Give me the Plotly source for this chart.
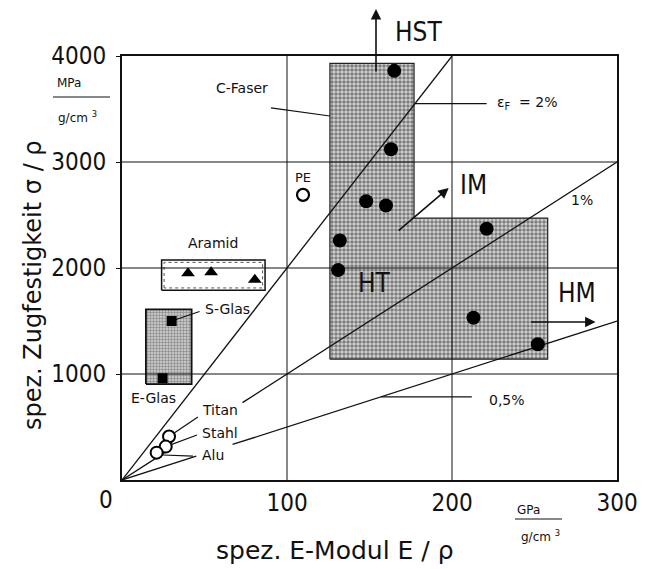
import plotly.graph_objects as go

# ---------------- data ----------------
x_ticks = [100, 200, 300]
y_ticks = [1000, 2000, 3000, 4000]
x_grid = [100, 200]
y_grid = [1000, 2000, 3000]

# carbon fibres (C-Faser): specific modulus, specific strength
cf_E = [165, 163, 148, 160, 132, 131, 221, 213, 252]
cf_S = [3860, 3120, 2630, 2590, 2260, 1980, 2370, 1530, 1280]

# carbon fibre region (HST / IM / HT / HM) outline
cf_region_E = [126, 126, 177, 177, 258, 258, 126]
cf_region_S = [1140, 3930, 3930, 2470, 2470, 1140, 1140]

# aramid
ar_E = [40, 54, 80.5]
ar_S = [1950, 1960, 1890]
ar_box_E = [24, 24, 86.7, 86.7, 24]
ar_box_S = [1790, 2075, 2075, 1790, 1790]

# glass
gl_names = ["S-Glas", "E-Glas"]
gl_E = [30.1, 24.6]
gl_S = [1500, 960]
gl_box_E = [14.5, 14.5, 42.2, 42.2, 14.5]
gl_box_S = [905, 1610, 1610, 905, 905]

# PE
pe_E = [109.7]
pe_S = [2690]

# metals
met_names = ["Titan", "Stahl", "Alu"]
met_E = [28.5, 26.5, 21.0]
met_S = [410, 315, 258]

# strain rays: strain (%), visible E segments
ray_strain = [2.0, 1.0, 0.5]
ray_segments = [[(0, 200)], [(0, 27), (73, 300)], [(0, 45), (67, 300)]]

TICKFONT = "DejaVu Sans Condensed, DejaVu Sans, sans-serif"
FONT = "DejaVu Sans, sans-serif"

# page has an 8px body margin -> figure is drawn at (8, 8)
OFF = 8
W, H = 649 - OFF, 569 - OFF
# plot area in reference pixel coordinates
L, R, T, B = 122, 617, 56, 480
def px(xp):
    return (xp - L) / (R - L)
def py(yp):
    return (B - yp) / (B - T)

fig = go.Figure()

# carbon fibre region
fig.add_trace(go.Scatter(
    x=cf_region_E, y=cf_region_S, mode="lines", fill="toself",
    line=dict(color="#222", width=1.2),
    fillcolor="rgba(0,0,0,0)",
    fillpattern=dict(shape=".", fgcolor="#222", bgcolor="#d6d6d6", size=4, solidity=0.6),
    hoverinfo="skip", showlegend=False))

# aramid box (white, double outline: outer solid, inner dotted)
fig.add_trace(go.Scatter(
    x=ar_box_E, y=ar_box_S, mode="lines", fill="toself", fillcolor="white",
    line=dict(color="#111", width=1.5), hoverinfo="skip", showlegend=False))
in_dx, in_dy = 1.5, 22
ar_in_E = [ar_box_E[0] + in_dx, ar_box_E[1] + in_dx, ar_box_E[2] - in_dx, ar_box_E[3] - in_dx, ar_box_E[4] + in_dx]
ar_in_S = [ar_box_S[0] + in_dy, ar_box_S[1] - in_dy, ar_box_S[2] - in_dy, ar_box_S[3] + in_dy, ar_box_S[4] + in_dy]
fig.add_trace(go.Scatter(
    x=ar_in_E, y=ar_in_S, mode="lines",
    line=dict(color="#555", width=1, dash="dot"), hoverinfo="skip", showlegend=False))

# glass box
fig.add_trace(go.Scatter(
    x=gl_box_E, y=gl_box_S, mode="lines", fill="toself",
    line=dict(color="#111", width=1.8),
    fillpattern=dict(shape="+", fgcolor="#333", bgcolor="#c4c4c4", size=3, solidity=0.3),
    hoverinfo="skip", showlegend=False))

# grid lines (drawn over fills)
for gx in x_grid:
    fig.add_trace(go.Scatter(x=[gx, gx], y=[0, 4000], mode="lines",
                             line=dict(color="#111", width=1), hoverinfo="skip", showlegend=False))
for gy in y_grid:
    fig.add_trace(go.Scatter(x=[0, 300], y=[gy, gy], mode="lines",
                             line=dict(color="#111", width=1), hoverinfo="skip", showlegend=False))

# strain rays sigma = eps * E  (E in GPa -> MPa)
for eps, segs in zip(ray_strain, ray_segments):
    for e0, e1 in segs:
        fig.add_trace(go.Scatter(
            x=[e0, e1], y=[eps / 100 * e0 * 1000, eps / 100 * e1 * 1000], mode="lines",
            line=dict(color="#111", width=1.3), hoverinfo="skip", showlegend=False))

# leader lines: (E0, S0, E1, S1)
leaders = [
    (177.6, 3550, 221, 3550),   # eps_F = 2%
    (157, 785, 212, 785),       # 0,5%
    (90.3, 3510, 126, 3434),    # C-Faser
    (gl_E[0], gl_S[0], 47, 1590),  # S-Glas
    (met_E[0], met_S[0], 46, 594),  # Titan
    (met_E[1], met_S[1], 45.5, 425),  # Stahl
    (met_E[2], met_S[2] - 20, 43, 226),  # Alu
]
for e0, s0, e1, s1 in leaders:
    fig.add_trace(go.Scatter(x=[e0, e1], y=[s0, s1], mode="lines",
                             line=dict(color="#111", width=1.2), hoverinfo="skip", showlegend=False))

# markers
fig.add_trace(go.Scatter(x=cf_E, y=cf_S, mode="markers",
                         marker=dict(symbol="circle", size=14, color="black"),
                         showlegend=False))
fig.add_trace(go.Scatter(x=ar_E, y=ar_S, mode="markers",
                         marker=dict(symbol="triangle-up", size=12, color="black"),
                         showlegend=False))
fig.add_trace(go.Scatter(x=gl_E, y=gl_S, mode="markers",
                         marker=dict(symbol="square", size=10, color="black"),
                         showlegend=False))
fig.add_trace(go.Scatter(x=pe_E, y=pe_S, mode="markers",
                         marker=dict(symbol="circle-open", size=12, color="black", line=dict(width=2.2)),
                         showlegend=False))
fig.add_trace(go.Scatter(x=met_E, y=met_S, mode="markers",
                         marker=dict(symbol="circle", size=12, color="white",
                                     line=dict(width=2, color="black")),
                         showlegend=False))

ann = []
def txt(x, y, t, size=14, xanchor="center", ref="data", family=FONT, angle=0):
    d = dict(x=x, y=y, text=t, showarrow=False, xanchor=xanchor, yanchor="middle",
             textangle=angle, font=dict(family=family, size=size, color="#111"))
    if ref == "paper":
        d.update(xref="paper", yref="paper")
    ann.append(d)

# data-positioned labels
txt(72.7, 3700, "C-Faser", 14)
txt(109.7, 2850, "PE", 13)
txt(55, 2236, "Aramid", 14)
txt(49, 1613, "S-Glas", 14, "left")
txt(18.8, 774, "E-Glas", 14)
txt(47.5, 660, "Titan", 14, "left")
txt(47.5, 443, "Stahl", 14, "left")
txt(47.5, 236, "Alu", 14, "left")
txt(226, 3557, "ε<sub>F</sub>  = 2%", 14, "left")
txt(279, 2642, "1%", 14)
txt(221, 755, "0,5%", 14, "left")
txt(153, 1858, "HT", 26, family=TICKFONT)
txt(213, 2783, "IM", 26, family=TICKFONT)
txt(276, 1764, "HM", 26, family=TICKFONT)

# paper-positioned labels
txt(px(418), py(32), "HST", 26, ref="paper", family=TICKFONT)
txt(px(106), py(500), "0", 24, ref="paper", family=TICKFONT)
txt(px(69), py(83), "MPa", 12, ref="paper")
txt(px(77), py(117), "g/cm <sup>3</sup>", 12, ref="paper")
txt(px(528), py(510), "GPa", 12, ref="paper")
txt(px(540), py(536), "g/cm <sup>3</sup>", 12, ref="paper")
txt(px(335), py(550), "spez. E-Modul E / ρ", 25, ref="paper")
txt(px(33), py(285), "spez. Zugfestigkeit σ / ρ", 24, ref="paper", angle=-90)

# arrows
ann.append(dict(xref="paper", yref="paper", x=px(376), y=py(8), ax=0, ay=65,
                showarrow=True, arrowhead=2, arrowsize=1.3, arrowwidth=1.6, arrowcolor="#111", text=""))
ann.append(dict(x=198, y=2755, ax=166.7, ay=2340, axref="x", ayref="y", xref="x", yref="y",
                showarrow=True, arrowhead=2, arrowsize=1.3, arrowwidth=1.6, arrowcolor="#111", text=""))
ann.append(dict(x=287, y=1490, ax=247, ay=1490, axref="x", ayref="y", xref="x", yref="y",
                showarrow=True, arrowhead=2, arrowsize=1.3, arrowwidth=1.6, arrowcolor="#111", text=""))

shapes = [
    dict(type="line", xref="paper", yref="paper", x0=px(53), x1=px(110), y0=py(97), y1=py(97),
         line=dict(color="#111", width=1.2)),
    dict(type="line", xref="paper", yref="paper", x0=px(515), x1=px(562), y0=py(519), y1=py(519),
         line=dict(color="#111", width=1.2)),
]

fig.update_layout(
    width=W, height=H,
    margin=dict(l=L - OFF, r=W - (R - OFF), t=T - OFF, b=H - (B - OFF), pad=0, autoexpand=False),
    paper_bgcolor="white", plot_bgcolor="white",
    showlegend=False,
    annotations=ann, shapes=shapes,
    font=dict(family=FONT, color="#111"),
)
fig.update_xaxes(range=[0, 300], tickvals=x_ticks, showgrid=False, zeroline=False, automargin=False,
                 showline=True, mirror=True, linecolor="#111", linewidth=2,
                 ticks="", tickfont=dict(family=TICKFONT, size=24, color="#111"))
fig.update_yaxes(range=[0, 4000], tickvals=y_ticks, showgrid=False, zeroline=False, automargin=False,
                 showline=True, mirror=True, linecolor="#111", linewidth=2,
                 ticks="outside", ticklen=4, tickcolor="#111", ticklabelstandoff=5,
                 tickfont=dict(family=TICKFONT, size=24, color="#111"))

fig.write_html("out.html")
